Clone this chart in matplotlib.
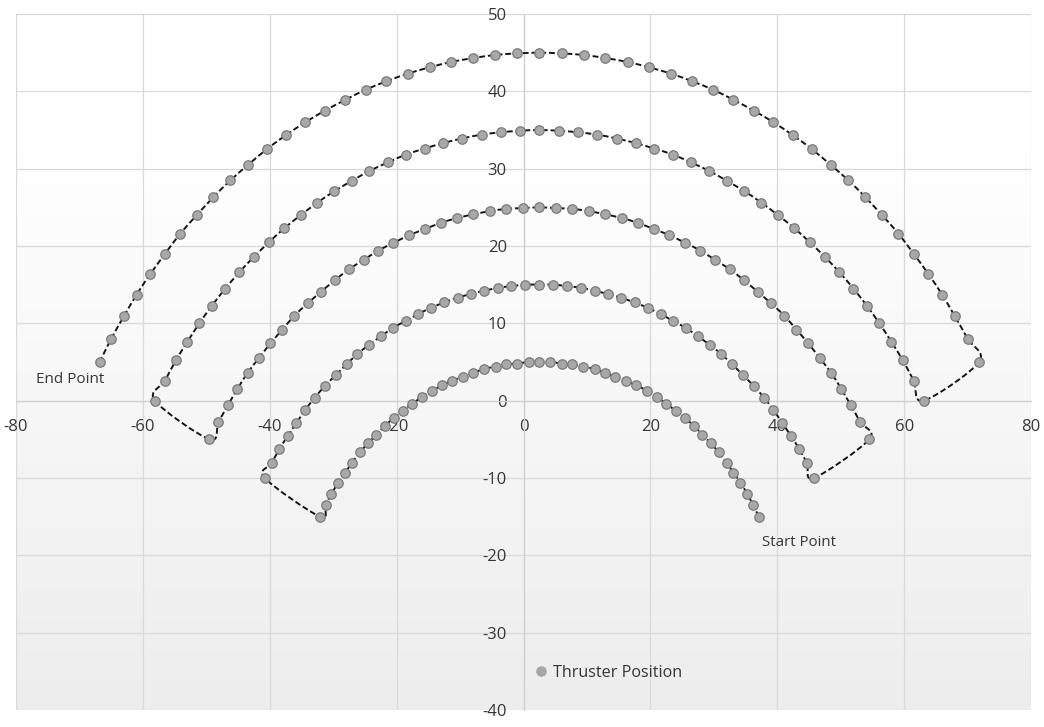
import numpy as np
import matplotlib
matplotlib.use("Agg")
import matplotlib.pyplot as plt
from matplotlib.path import Path
from matplotlib.patches import PathPatch
from matplotlib.lines import Line2D

# ---------------- data ----------------
series_name = "Thruster Position"

arc1_x = [37.1, 36.2, 35.3, 34.2, 33.1, 32.0, 30.8, 29.5, 28.2, 26.9, 25.4, 24.0, 22.5, 21.0, 19.4, 17.8, 16.2,
          14.5, 12.9, 11.2, 9.4, 7.7, 6.0, 4.2, 2.5, 0.8, -1.0, -2.7, -4.4, -6.2, -7.9, -9.5, -11.2, -12.8, -14.4,
          -16.0, -17.5, -19.0, -20.4, -21.9, -23.2, -24.5, -25.8, -27.0, -28.1, -29.2, -30.3, -31.2, -32.1]
arc1_y = [-15.0, -13.5, -12.1, -10.6, -9.3, -8.0, -6.7, -5.5, -4.4, -3.3, -2.2, -1.3, -0.4, 0.5, 1.3, 2.0, 2.6,
          3.1, 3.6, 4.1, 4.4, 4.7, 4.8, 5.0, 5.0, 5.0, 4.8, 4.7, 4.4, 4.1, 3.6, 3.1, 2.6, 2.0, 1.3, 0.5, -0.4,
          -1.3, -2.2, -3.3, -4.4, -5.5, -6.7, -8.0, -9.3, -10.6, -12.1, -13.5, -15.0]

arc2_x = [-40.8, -39.7, -38.5, -37.2, -35.8, -34.4, -32.9, -31.3, -29.6, -27.9, -26.2, -24.4, -22.5, -20.6,
          -18.6, -16.6, -14.6, -12.5, -10.4, -8.3, -6.2, -4.0, -1.9, 0.3, 2.5, 4.7, 6.9, 9.0, 11.2, 13.3, 15.4,
          17.5, 19.6, 21.6, 23.6, 25.6, 27.5, 29.4, 31.2, 32.9, 34.6, 36.3, 37.9, 39.4, 40.8, 42.2, 43.5, 44.7, 45.8]
arc2_y = [-10.0, -8.1, -6.3, -4.6, -2.9, -1.2, 0.4, 1.9, 3.3, 4.7, 6.0, 7.2, 8.3, 9.4, 10.3, 11.2, 12.0, 12.7,
          13.3, 13.8, 14.2, 14.6, 14.8, 15.0, 15.0, 15.0, 14.8, 14.6, 14.2, 13.8, 13.3, 12.7, 12.0, 11.2, 10.3,
          9.4, 8.3, 7.2, 6.0, 4.7, 3.3, 1.9, 0.4, -1.2, -2.9, -4.6, -6.3, -8.1, -10.0]

arc3_x = [54.5, 53.1, 51.6, 50.1, 48.5, 46.7, 44.9, 43.0, 41.1, 39.0, 36.9, 34.7, 32.5, 30.2, 27.9, 25.5, 23.0,
          20.5, 18.0, 15.5, 12.9, 10.3, 7.7, 5.1, 2.5, -0.1, -2.7, -5.3, -7.9, -10.5, -13.0, -15.5, -18.0, -20.5,
          -22.9, -25.2, -27.5, -29.7, -31.9, -34.0, -36.1, -38.0, -39.9, -41.7, -43.5, -45.1, -46.6, -48.1, -49.5]
arc3_y = [-5.0, -2.8, -0.6, 1.5, 3.6, 5.5, 7.4, 9.2, 11.0, 12.6, 14.1, 15.6, 17.0, 18.2, 19.4, 20.4, 21.4, 22.2,
          23.0, 23.6, 24.1, 24.5, 24.8, 24.9, 25.0, 24.9, 24.8, 24.5, 24.1, 23.6, 23.0, 22.2, 21.4, 20.4, 19.4,
          18.2, 17.0, 15.6, 14.1, 12.6, 11.0, 9.2, 7.4, 5.5, 3.6, 1.5, -0.6, -2.8, -5.0]

arc4_x = [-58.1, -56.5, -54.8, -53.0, -51.1, -49.1, -47.0, -44.8, -42.5, -40.1, -37.7, -35.1, -32.5, -29.8,
          -27.1, -24.3, -21.4, -18.6, -15.6, -12.7, -9.7, -6.6, -3.6, -0.6, 2.5, 5.6, 8.6, 11.6, 14.7, 17.7, 20.6,
          23.6, 26.4, 29.3, 32.1, 34.8, 37.5, 40.1, 42.7, 45.1, 47.5, 49.8, 52.0, 54.1, 56.1, 58.0, 59.8, 61.5, 63.1]
arc4_y = [0.0, 2.6, 5.2, 7.6, 10.0, 12.3, 14.5, 16.6, 18.6, 20.5, 22.3, 24.0, 25.6, 27.1, 28.4, 29.7, 30.8, 31.8,
          32.6, 33.3, 33.9, 34.4, 34.7, 34.9, 35.0, 34.9, 34.7, 34.4, 33.9, 33.3, 32.6, 31.8, 30.8, 29.7, 28.4,
          27.1, 25.6, 24.0, 22.3, 20.5, 18.6, 16.6, 14.5, 12.3, 10.0, 7.6, 5.2, 2.6, 0.0]

arc5_x = [71.8, 70.0, 68.0, 66.0, 63.8, 61.5, 59.1, 56.5, 53.9, 51.2, 48.4, 45.5, 42.5, 39.4, 36.3, 33.1, 29.9,
          26.6, 23.2, 19.8, 16.4, 12.9, 9.5, 6.0, 2.5, -1.0, -4.5, -7.9, -11.4, -14.8, -18.2, -21.6, -24.9, -28.1,
          -31.3, -34.4, -37.5, -40.5, -43.4, -46.2, -48.9, -51.5, -54.1, -56.5, -58.8, -61.0, -63.0, -65.0, -66.8]
arc5_y = [5.0, 8.0, 10.9, 13.7, 16.4, 19.0, 21.6, 24.0, 26.3, 28.5, 30.5, 32.5, 34.3, 36.0, 37.5, 38.9, 40.2,
          41.3, 42.3, 43.1, 43.8, 44.3, 44.7, 44.9, 45.0, 44.9, 44.7, 44.3, 43.8, 43.1, 42.3, 41.3, 40.2, 38.9,
          37.5, 36.0, 34.3, 32.5, 30.5, 28.5, 26.3, 24.0, 21.6, 19.0, 16.4, 13.7, 10.9, 8.0, 5.0]

x_ticks = [-80, -60, -40, -20, 0, 20, 40, 60, 80]
y_ticks = [-40, -30, -20, -10, 0, 10, 20, 30, 40, 50]
start_label = "Start Point"
end_label = "End Point"

# ---------------- figure ----------------
plt.rcParams["font.family"] = ["Open Sans", "DejaVu Sans"]
TXT = "#363636"
GRID = "#d9d9d9"

fig = plt.figure(figsize=(10.44, 7.27), dpi=100)
fig.patch.set_facecolor("white")
ax = fig.add_axes([16 / 1044, 17 / 727, 1015 / 1044, 696 / 727])
ax.set_xlim(-80, 80)
ax.set_ylim(-40, 50)

# background gradient (white at top -> light grey at bottom)
yy = np.linspace(50, -40, 300)
shade = 1.0 - 0.07 * np.clip((32 - yy) / 72.0, 0, 1)
grad = np.repeat(shade[:, None], 2, axis=1)
ax.imshow(np.dstack([grad, grad, grad]), extent=[-80, 80, -40, 50], aspect="auto",
          zorder=0, interpolation="bilinear")

# grid
ax.set_xticks(x_ticks)
ax.set_yticks(y_ticks)
ax.grid(True, color=GRID, linewidth=0.9, zorder=1)
ax.set_axisbelow(True)

# axes through origin
for s in ["top", "right"]:
    ax.spines[s].set_visible(False)
ax.spines["left"].set_position(("data", 0))
ax.spines["bottom"].set_position(("data", 0))
ax.spines["left"].set_color("#cfcfcf")
ax.spines["bottom"].set_color("#cfcfcf")
ax.spines["left"].set_linewidth(0.9)
ax.spines["bottom"].set_linewidth(0.9)
ax.tick_params(axis="both", length=0, labelsize=12, labelcolor=TXT)
ax.tick_params(axis="x", pad=13.5)
ax.tick_params(axis="y", pad=12)
ax.set_xticklabels([str(v) for v in x_ticks])
ax.set_yticklabels([str(v) for v in y_ticks])

# data
xs = np.array(arc1_x + arc2_x + arc3_x + arc4_x + arc5_x)
ys = np.array(arc1_y + arc2_y + arc3_y + arc4_y + arc5_y)

# smoothed connecting line (Excel-like smoothing via cubic Bezier through the points)
pts = np.column_stack([xs, ys])
n = len(pts)
verts = [pts[0]]
codes = [Path.MOVETO]
for i in range(n - 1):
    p0 = pts[i - 1] if i > 0 else pts[i]
    p1 = pts[i]
    p2 = pts[i + 1]
    p3 = pts[i + 2] if i + 2 < n else pts[i + 1]
    c1 = p1 + (p2 - p0) / 6.0
    c2 = p2 - (p3 - p1) / 6.0
    verts += [c1, c2, p2]
    codes += [Path.CURVE4] * 3
ax.add_patch(PathPatch(Path(verts, codes), facecolor="none", edgecolor="#151515",
                       linewidth=1.4, linestyle=(0, (3, 1.5)), zorder=3))

ax.plot(xs, ys, linestyle="none", marker="o", markersize=6.8, markerfacecolor="#a8a8a8",
        markeredgecolor="#7a7a7a", markeredgewidth=0.9, zorder=4, label=series_name)

# annotations
ax.text(-76.8, 2.7, end_label, ha="left", va="center", fontsize=11, color=TXT, zorder=5)
ax.text(37.6, -18.4, start_label, ha="left", va="center", fontsize=10.8, color=TXT, zorder=5)

# legend
handle = Line2D([], [], linestyle="none", marker="o", markersize=6.6, markerfacecolor="#a8a8a8",
                markeredgecolor="#a0a0a0", markeredgewidth=0.9)
ax.legend([handle], [series_name], loc="center", bbox_to_anchor=(0.583, 0.053), frameon=False,
          fontsize=11.6, handletextpad=0.25, handlelength=1.0, labelcolor=TXT)

fig.savefig("out.png", dpi=100, facecolor="white")
